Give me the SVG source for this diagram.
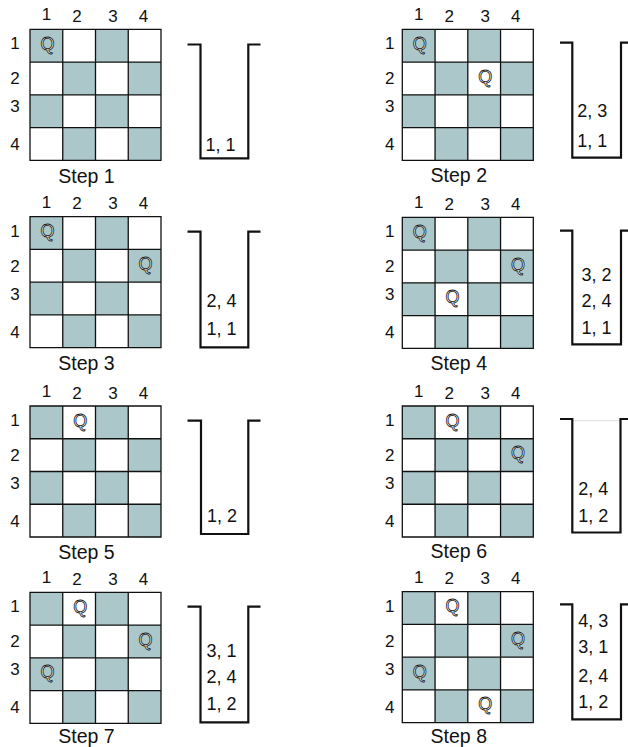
<svg xmlns="http://www.w3.org/2000/svg" xmlns:xlink="http://www.w3.org/1999/xlink" width="628" height="747" viewBox="0 0 628 747">
<style>
text{font-family:"Liberation Sans",Arial,sans-serif;fill:#111}
.lab{font-size:17px;text-anchor:middle}
.stk{font-size:18px}
.step{font-size:19.5px;text-anchor:middle}
.q{font-size:18px;text-anchor:middle;fill:#fff;stroke:#111;stroke-width:0.8px}
.cup{fill:none;stroke:#111;stroke-width:2.2;stroke-linejoin:miter}
.sh{fill:#abc7ca}
.wh{fill:#fff}
.grid{fill:none;stroke:#111;stroke-width:1.3}
</style>
<defs>
<g id="board">
<rect class="wh" x="0" y="0" width="131" height="131"/>
<rect class="sh" x="0" y="0" width="32.75" height="32.75"/>
<rect class="sh" x="65.5" y="0" width="32.75" height="32.75"/>
<rect class="sh" x="32.75" y="32.75" width="32.75" height="32.75"/>
<rect class="sh" x="98.25" y="32.75" width="32.75" height="32.75"/>
<rect class="sh" x="0" y="65.5" width="32.75" height="32.75"/>
<rect class="sh" x="65.5" y="65.5" width="32.75" height="32.75"/>
<rect class="sh" x="32.75" y="98.25" width="32.75" height="32.75"/>
<rect class="sh" x="98.25" y="98.25" width="32.75" height="32.75"/>
<path class="grid" d="M0 0H131V131H0Z M32.75 0V131 M65.5 0V131 M98.25 0V131 M0 32.75H131 M0 65.5H131 M0 98.25H131"/>
</g>
<g id="labels">
<text class="lab" x="16.5" y="-9">1</text>
<text class="lab" x="47" y="-7.5">2</text>
<text class="lab" x="83" y="-7.5">3</text>
<text class="lab" x="113.5" y="-7.5">4</text>
</g>
</defs>

<g id="step1" transform="translate(30,29.3)">
<use xlink:href="#board"/>
<use xlink:href="#labels"/>
<text class="lab" x="-15" y="20">1</text>
<text class="lab" x="-15" y="55">2</text>
<text class="lab" x="-15" y="83">3</text>
<text class="lab" x="-15" y="121">4</text>
<text class="q" x="17.4" y="20.5">Q</text>
<text class="step" x="56.5" y="153.4">Step 1</text>
</g>
<g id="stack1">
<path class="cup" d="M187.5 44.5H200.5V158.3H248.3V44.5H260.5"/>
<text class="stk" x="205.5" y="150.5">1, 1</text>
</g>

<g id="step2" transform="translate(402.3,29.3)">
<use xlink:href="#board"/>
<use xlink:href="#labels"/>
<text class="lab" x="-12.5" y="20">1</text>
<text class="lab" x="-12.5" y="55">2</text>
<text class="lab" x="-12.5" y="83">3</text>
<text class="lab" x="-12.5" y="121">4</text>
<text class="q" x="17.4" y="20.5">Q</text>
<text class="q" x="82.9" y="53.3">Q</text>
<text class="step" x="56.5" y="152.4">Step 2</text>
</g>
<g id="stack2">
<path class="cup" d="M560 42.7H572.3V157.7H621V42.7H633"/>
<text class="stk" x="577.3" y="116.7">2, 3</text>
<text class="stk" x="577.3" y="146.7">1, 1</text>
</g>

<g id="step3" transform="translate(30,216.7)">
<use xlink:href="#board"/>
<use xlink:href="#labels"/>
<text class="lab" x="-15" y="20">1</text>
<text class="lab" x="-15" y="55">2</text>
<text class="lab" x="-15" y="83">3</text>
<text class="lab" x="-15" y="121">4</text>
<text class="q" x="17.4" y="20.5">Q</text>
<text class="q" x="115.6" y="53.3">Q</text>
<text class="step" x="56.5" y="153.3">Step 3</text>
</g>
<g id="stack3">
<path class="cup" d="M187.5 231.7H200.5V347.3H248.3V231.7H260.5"/>
<text class="stk" x="206.5" y="306.7">2, 4</text>
<text class="stk" x="206.5" y="335">1, 1</text>
</g>

<g id="step4" transform="translate(402.3,217.3)">
<use xlink:href="#board"/>
<use xlink:href="#labels"/>
<text class="lab" x="-12.5" y="20">1</text>
<text class="lab" x="-12.5" y="55">2</text>
<text class="lab" x="-12.5" y="83">3</text>
<text class="lab" x="-12.5" y="121">4</text>
<text class="q" x="17.4" y="20.5">Q</text>
<text class="q" x="115.6" y="53.3">Q</text>
<text class="q" x="50.2" y="86">Q</text>
<text class="step" x="56.5" y="152.7">Step 4</text>
</g>
<g id="stack4">
<path class="cup" d="M560 230.7H572.3V344.3H621V230.7H633"/>
<text class="stk" x="581.5" y="280.7">3, 2</text>
<text class="stk" x="581.5" y="306.7">2, 4</text>
<text class="stk" x="581.5" y="334">1, 1</text>
</g>

<g id="step5" transform="translate(30,406)">
<use xlink:href="#board"/>
<use xlink:href="#labels"/>
<text class="lab" x="-15" y="20">1</text>
<text class="lab" x="-15" y="55">2</text>
<text class="lab" x="-15" y="83">3</text>
<text class="lab" x="-15" y="121">4</text>
<text class="q" x="50.2" y="20.5">Q</text>
<text class="step" x="56.5" y="153">Step 5</text>
</g>
<g id="stack5">
<path class="cup" d="M187.5 420.7H201V534H248.3V420.7H260.5"/>
<text class="stk" x="207" y="521.7">1, 2</text>
</g>

<g id="step6" transform="translate(402.3,406)">
<use xlink:href="#board"/>
<use xlink:href="#labels"/>
<text class="lab" x="-12.5" y="20">1</text>
<text class="lab" x="-12.5" y="55">2</text>
<text class="lab" x="-12.5" y="83">3</text>
<text class="lab" x="-12.5" y="121">4</text>
<text class="q" x="50.2" y="20.5">Q</text>
<text class="q" x="115.6" y="53.3">Q</text>
<text class="step" x="56.5" y="152.3">Step 6</text>
</g>
<g id="stack6">
<line x1="573" y1="420.7" x2="620" y2="420.7" stroke="#dcdcdc" stroke-width="1"/>
<path class="cup" d="M560 419H572.3V532.5H620.5V419H633"/>
<text class="stk" x="578.3" y="495">2, 4</text>
<text class="stk" x="578.3" y="521.7">1, 2</text>
</g>

<g id="step7" transform="translate(30,592.3)">
<use xlink:href="#board"/>
<use xlink:href="#labels"/>
<text class="lab" x="-15" y="20">1</text>
<text class="lab" x="-15" y="55">2</text>
<text class="lab" x="-15" y="83">3</text>
<text class="lab" x="-15" y="121">4</text>
<text class="q" x="50.2" y="20.5">Q</text>
<text class="q" x="115.6" y="53.3">Q</text>
<text class="q" x="17.4" y="86">Q</text>
<text class="step" x="56.5" y="151">Step 7</text>
</g>
<g id="stack7">
<path class="cup" d="M187.5 606.7H200.5V722.3H248.3V606.7H260.5"/>
<text class="stk" x="206.5" y="657.3">3, 1</text>
<text class="stk" x="206.5" y="683.3">2, 4</text>
<text class="stk" x="206.5" y="710">1, 2</text>
</g>

<g id="step8" transform="translate(402.3,591.7)">
<use xlink:href="#board"/>
<use xlink:href="#labels"/>
<text class="lab" x="-12.5" y="20">1</text>
<text class="lab" x="-12.5" y="55">2</text>
<text class="lab" x="-12.5" y="83">3</text>
<text class="lab" x="-12.5" y="121">4</text>
<text class="q" x="50.2" y="20.5">Q</text>
<text class="q" x="115.6" y="53.3">Q</text>
<text class="q" x="17.4" y="86">Q</text>
<text class="q" x="82.9" y="118.8">Q</text>
<text class="step" x="56.5" y="151.6">Step 8</text>
</g>
<g id="stack8">
<path class="cup" d="M560 604.3H572.3V719.3H621V604.3H633"/>
<text class="stk" x="578.3" y="626.7">4, 3</text>
<text class="stk" x="578.3" y="653.3">3, 1</text>
<text class="stk" x="578.3" y="681.7">2, 4</text>
<text class="stk" x="578.3" y="708.3">1, 2</text>
</g>

<g id="connectors"></g>
</svg>
